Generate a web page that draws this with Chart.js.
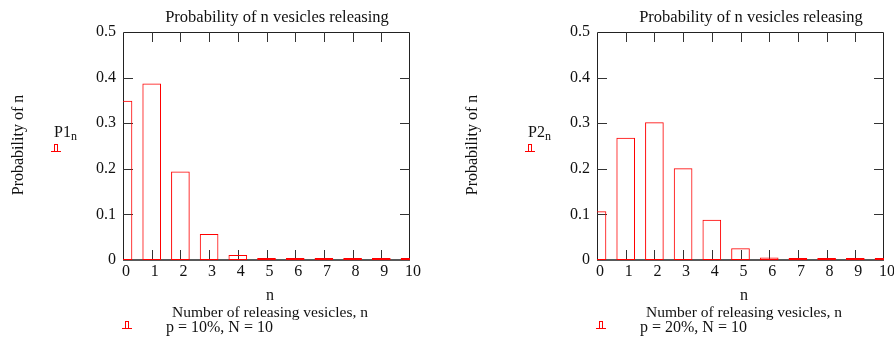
<!DOCTYPE html>
<html>
<head>
<meta charset="utf-8">
<script src="https://cdn.jsdelivr.net/npm/chart.js@4.4.1/dist/chart.umd.min.js"></script>
<style>
  html, body { margin:0; padding:0; background:#fff; overflow:hidden; width:894px; height:337px; }
  .panel { position:absolute; top:0; width:474px; height:337px; }
  .panel canvas { position:absolute; left:0; top:0; }
  .t { position:absolute; font-family:'Liberation Serif', 'Times New Roman', serif; color:#111; white-space:nowrap; line-height:1; }
  .mk { position:absolute; }
  .mk .base { position:absolute; height:1px; background:#ff0000; }
  .mk .box { position:absolute; border:1px solid #ff0000; border-bottom:none; box-sizing:border-box; }
</style>
</head>
<body>
<script>
// ---- data ----
const nValues = [0, 1, 2, 3, 4, 5, 6, 7, 8, 9, 10];
const p1Values = [0.349, 0.387, 0.194, 0.057, 0.011, 0.0015, 0.0001, 0, 0, 0, 0];
const p2Values = [0.107, 0.268, 0.302, 0.201, 0.088, 0.026, 0.0055, 0.0008, 0.0001, 0, 0];
const xTickLabels = ['0', '1', '2', '3', '4', '5', '6', '7', '8', '9', '10'];
const yTickLabels = ['0', '0.1', '0.2', '0.3', '0.4', '0.5'];
const chartTitle = 'Probability of n vesicles releasing';
const yAxisTitle = 'Probability of n';
const xAxisTitle1 = 'n';
const xAxisTitle2 = 'Number of releasing vesicles, n';
const seriesNames = ['P1', 'P2'];
const legendLabels = ['p = 10%, N = 10', 'p = 20%, N = 10'];

const FONT = "'Liberation Serif', 'Times New Roman', serif";

const framePlugin = {
  id: 'frame',
  beforeDatasetsDraw(chart) {
    const {ctx, chartArea: a, scales: {x, y}} = chart;
    ctx.save();
    ctx.strokeStyle = '#222';
    ctx.lineWidth = 1;
    ctx.beginPath();
    ctx.moveTo(a.left + 0.5, a.bottom);
    ctx.lineTo(a.left + 0.5, a.top + 0.5);
    ctx.lineTo(a.right - 0.5, a.top + 0.5);
    ctx.lineTo(a.right - 0.5, a.bottom);
    ctx.stroke();
    ctx.lineWidth = 1.6;
    ctx.beginPath();
    ctx.moveTo(a.left, a.bottom);
    ctx.lineTo(a.right, a.bottom);
    ctx.stroke();
    // inward ticks
    ctx.strokeStyle = '#333';
    ctx.lineWidth = 1;
    const L = 10;
    ctx.beginPath();
    for (let i = 1; i < nValues.length - 1; i++) {
      const px = Math.round(x.getPixelForValue(nValues[i])) + 0.5;
      ctx.moveTo(px, a.bottom); ctx.lineTo(px, a.bottom - L);
      ctx.moveTo(px, a.top); ctx.lineTo(px, a.top + L);
    }
    for (let j = 1; j < yTickLabels.length - 1; j++) {
      const py = Math.round(y.getPixelForValue(parseFloat(yTickLabels[j]))) + 0.5;
      ctx.moveTo(a.left, py); ctx.lineTo(a.left + L, py);
      ctx.moveTo(a.right, py); ctx.lineTo(a.right - L, py);
    }
    ctx.stroke();
    ctx.restore();
  }
};

function addText(panel, text, opts) {
  const d = document.createElement('div');
  d.className = 't';
  d.style.fontSize = opts.size + 'px';
  d.innerHTML = text;
  panel.appendChild(d);
  const base = 0.8375 * opts.size; // baseline offset within line box
  if (opts.rotate) {
    d.style.left = opts.cx + 'px';
    d.style.top = opts.cy + 'px';
    d.style.transform = 'translate(-50%,-50%) rotate(-90deg)';
  } else {
    d.style.top = (opts.baseline - base) + 'px';
    if (opts.center !== undefined) {
      d.style.left = opts.center + 'px';
      d.style.transform = 'translateX(-50%)';
    } else {
      d.style.left = opts.left + 'px';
    }
  }
  return d;
}

function addMarker(panel, left, top) {
  const m = document.createElement('div');
  m.className = 'mk';
  m.style.left = left + 'px';
  m.style.top = top + 'px';
  const box = document.createElement('div');
  box.className = 'box';
  box.style.left = '3px'; box.style.top = '0px'; box.style.width = '4px'; box.style.height = '7px';
  const base = document.createElement('div');
  base.className = 'base';
  base.style.left = '0px'; base.style.top = '7px'; base.style.width = '10px';
  m.appendChild(box); m.appendChild(base);
  panel.appendChild(m);
}

function makePanel(offsetX, values, idx, yTitleCx) {
  const panel = document.createElement('div');
  panel.className = 'panel';
  panel.style.left = offsetX + 'px';
  document.body.appendChild(panel);
  const cv = document.createElement('canvas');
  cv.width = 474; cv.height = 337;
  cv.style.width = '474px'; cv.style.height = '337px';
  panel.appendChild(cv);

  new Chart(cv.getContext('2d'), {
    type: 'bar',
    data: {
      datasets: [{
        data: nValues.map((n, i) => ({x: n, y: values[i]})),
        backgroundColor: 'rgba(0,0,0,0)',
        borderColor: '#ff0000',
        borderWidth: 1,
        borderSkipped: false,
        barPercentage: 0.65,
        categoryPercentage: 1,
        minBarLength: 2,
        clip: 0
      }]
    },
    options: {
      responsive: false,
      animation: false,
      devicePixelRatio: 1,
      layout: { padding: { left: 0, top: 32, right: 64, bottom: 57 } },
      plugins: { legend: { display: false }, title: { display: false }, tooltip: { enabled: false } },
      scales: {
        x: {
          type: 'linear', min: 0, max: 10, offset: false,
          grid: { display: false, drawTicks: false, offset: false },
          border: { display: false },
          ticks: {
            stepSize: 1, autoSkip: false, maxRotation: 0, padding: 2, labelOffset: 3,
            color: '#111', font: { family: FONT, size: 16 },
            callback: (v, i) => xTickLabels[i]
          },
          afterFit: s => { s.height = 20; }
        },
        y: {
          min: 0, max: 0.5,
          grid: { display: false, drawTicks: false },
          border: { display: false },
          ticks: {
            stepSize: 0.1, padding: 7,
            color: '#111', font: { family: FONT, size: 16 },
            callback: (v, i) => yTickLabels[i]
          },
          afterFit: s => { s.width = 123; }
        }
      }
    },
    plugins: [framePlugin]
  });

  addText(panel, chartTitle, { size: 16.5, center: 277, baseline: 23 });
  addText(panel, yAxisTitle, { size: 16, rotate: true, cx: yTitleCx, cy: 145 });
  addText(panel, seriesNames[idx] + '<span style="font-size:12px;position:relative;top:3px">n</span>', { size: 16, left: 54, baseline: 137 });
  addMarker(panel, 51, 144);
  addText(panel, xAxisTitle1, { size: 16, center: 270, baseline: 300 });
  addText(panel, xAxisTitle2, { size: 15.5, center: 270, baseline: 317 });
  addMarker(panel, 122, 321);
  addText(panel, legendLabels[idx], { size: 16, left: 166, baseline: 332 });
}

makePanel(0, p1Values, 0, 17.6);
makePanel(474, p2Values, 1, -2.4);
</script>
</body>
</html>
